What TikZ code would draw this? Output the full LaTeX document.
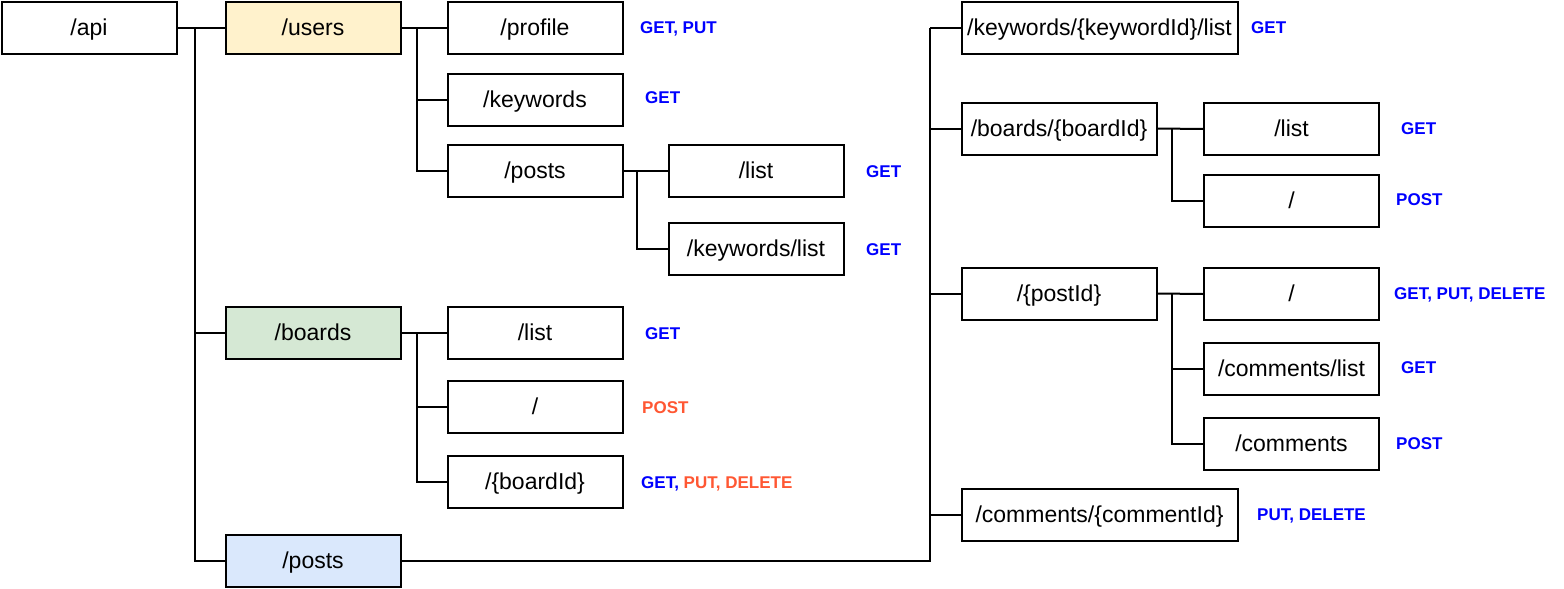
\documentclass[tikz,border=0pt]{standalone}
\usepackage{fontspec}
\setmainfont{Liberation Sans}
\definecolor{apiblue}{HTML}{0000FF}
\definecolor{apiorange}{HTML}{FF5733}
\definecolor{usersfill}{HTML}{FFF2CC}
\definecolor{boardsfill}{HTML}{D5E8D4}
\definecolor{postsfill}{HTML}{DAE8FC}
\begin{document}
\begin{tikzpicture}[x=1pt,y=-1pt,
 box/.style={draw=black, line width=2pt, minimum height=52pt, minimum width=175pt, inner sep=0pt, text height=17pt, text depth=2pt, font=\fontsize{23}{27}\selectfont},
 wide/.style={minimum width=195pt},
 wider/.style={minimum width=276pt},
 conn/.style={line width=2pt},
 verb/.style={anchor=west, inner sep=0pt, text height=12pt, text depth=0pt, font=\fontsize{17}{20}\selectfont\bfseries, text=apiblue},
 verbo/.style={verb, text=apiorange}]
\useasboundingbox (0,0) rectangle (1564,589);
% left column
\node[box] (api) at (89,27.5) {/api};
\node[box, fill=usersfill] (users) at (313,27.5) {/users};
\node[box, fill=boardsfill] (boards) at (313,332.5) {/boards};
\node[box, fill=postsfill] (posts) at (313,560.5) {/posts};
% users children
\node[box] (uprofile) at (535,27.5) {/profile};
\node[box] (ukeywords) at (535,99.5) {/keywords};
\node[box] (uposts) at (535,171) {/posts};
\node[box] (plist) at (756,171) {/list};
\node[box] (pkwlist) at (756,249) {/keywords/list};
% boards children
\node[box] (blist) at (535,332.5) {/list};
\node[box] (broot) at (535,407) {/};
\node[box] (bid) at (535,481.5) {/\{boardId\}};
% posts children
\node[box, wider] (rkw) at (1099.5,28) {/keywords/\{keywordId\}/list};
\node[box, wide] (rboard) at (1059,128.5) {/boards/\{boardId\}};
\node[box] (rbl) at (1291.5,129) {/list};
\node[box] (rbroot) at (1291.5,201) {/};
\node[box, wide] (rpost) at (1059,293.5) {/\{postId\}};
\node[box] (rproot) at (1291.5,294) {/};
\node[box] (rpcl) at (1291.5,369) {/comments/list};
\node[box] (rpc) at (1291.5,443.5) {/comments};
\node[box, wider] (rcomm) at (1099.5,515) {/comments/\{commentId\}};
% connectors
\coordinate (a1) at (195,27.5);
\draw[conn] (api.east) -- (users.west);
\draw[conn] (a1) |- (boards.west);
\draw[conn] (a1) |- (posts.west);
\coordinate (u1) at (417,27.5);
\draw[conn] (users.east) -- (uprofile.west);
\draw[conn] (u1) |- (ukeywords.west);
\draw[conn] (u1) |- (uposts.west);
\coordinate (p1) at (637,171);
\draw[conn] (uposts.east) -- (plist.west);
\draw[conn] (p1) |- (pkwlist.west);
\coordinate (b1) at (417,332.5);
\draw[conn] (boards.east) -- (blist.west);
\draw[conn] (b1) |- (broot.west);
\draw[conn] (b1) |- (bid.west);
\coordinate (r1) at (930,28);
\draw[conn] (posts.east) -| (r1);
\draw[conn] (r1) -- (rkw.west);
\draw[conn] (r1) |- (rboard.west);
\draw[conn] (r1) |- (rpost.west);
\draw[conn] (r1) |- (rcomm.west);
\coordinate (rb1) at (1172,128.5);
\draw[conn] (rboard.east) -- (rbl.west);
\draw[conn] (rb1) |- (rbroot.west);
\coordinate (rp1) at (1172,293.5);
\draw[conn] (rpost.east) -- (rproot.west);
\draw[conn] (rp1) |- (rpcl.west);
\draw[conn] (rp1) |- (rpc.west);
% verbs
\node[verb] (v1) at (640,27) {GET, PUT};
\node[verb] (v2) at (645,97) {GET};
\node[verb] (v3) at (866,171) {GET};
\node[verb] (v4) at (866,249) {GET};
\node[verb] (v5) at (645,333) {GET};
\node[verbo] (v6) at (642,407) {POST};
\node[verb] (v7) at (641,482) {GET, \textcolor{apiorange}{PUT, DELETE}};
\node[verb] (v8) at (1251,28) {GET};
\node[verb] (v9) at (1401,128) {GET};
\node[verb] (v10) at (1396,199) {POST};
\node[verb] (v11) at (1394,293) {GET, PUT, DELETE};
\node[verb] (v12) at (1401,367) {GET};
\node[verb] (v13) at (1396,443) {POST};
\node[verb] (v14) at (1257,514) {PUT, DELETE};
\end{tikzpicture}
\end{document}
